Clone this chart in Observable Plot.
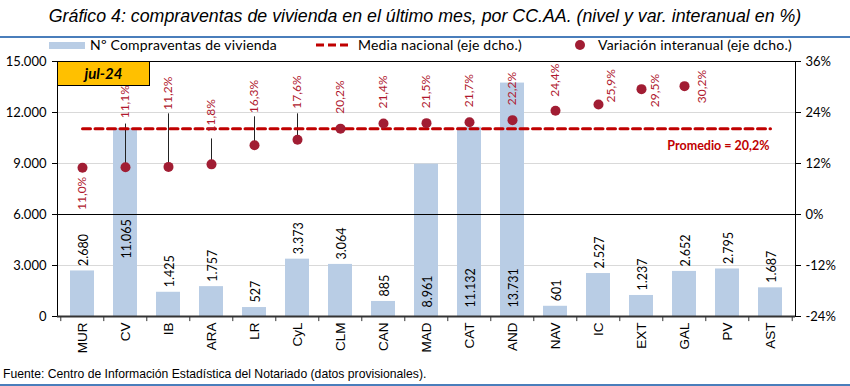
<!DOCTYPE html>
<html><head><meta charset="utf-8">
<script src="https://cdn.jsdelivr.net/npm/d3@7"></script>
<script src="https://cdn.jsdelivr.net/npm/@observablehq/plot@0.6"></script>
<style>
body{margin:0;background:#fff;}
#wrap{position:relative;width:850px;height:386px;overflow:hidden;font-family:Lato,sans-serif;background:#fff;}
.abs{position:absolute;}
.leg{position:absolute;font-size:14px;color:#000;white-space:nowrap;line-height:16px;letter-spacing:0.2px;}
#title{position:absolute;left:0;top:3px;width:850px;text-align:center;font:italic 17.8px 'Liberation Sans Narrow','Liberation Sans',sans-serif;white-space:nowrap;line-height:26px;color:#000;}
#source{position:absolute;left:3px;top:367px;font:12.2px 'Liberation Sans Narrow','Liberation Sans',sans-serif;white-space:nowrap;line-height:15px;color:#000;}
#chart{position:absolute;left:0;top:52px;}
#period{position:absolute;left:57px;top:61px;width:93px;height:25px;box-sizing:border-box;background:#ffc000;border:1px solid #000;font:italic bold 15px Lato,sans-serif;text-align:center;line-height:23px;}
</style></head><body><div id="wrap">
<div id="title"></div>
<div class="abs" style="left:0;top:36px;width:850px;height:2px;background:#4a7ebb"></div>
<div class="abs" style="left:49px;top:42px;width:36px;height:7px;background:#b9cde5"></div>
<div class="leg" id="leg1" style="left:90px;top:37px"></div>
<svg class="abs" style="left:316px;top:40px" width="36" height="10"><line x1="0" x2="36" y1="5" y2="5" stroke="#c00000" stroke-width="3" stroke-dasharray="8,4"/></svg>
<div class="leg" id="leg2" style="left:358px;top:37px"></div>
<svg class="abs" style="left:574px;top:39px" width="12" height="12"><circle cx="6" cy="6" r="5" fill="#a11d33"/></svg>
<div class="leg" id="leg3" style="left:598px;top:37px"></div>
<div id="chart"></div>
<div id="period"></div>
<div id="source"></div>
<div class="abs" style="left:0;top:384px;width:850px;height:2px;background:#4a7ebb"></div>
</div>
<script>
// ---- data ----
const categories = ["MUR","CV","IB","ARA","LR","CyL","CLM","CAN","MAD","CAT","AND","NAV","IC","EXT","GAL","PV","AST"];
const sales = [2680,11065,1425,1757,527,3373,3064,885,8961,11132,13731,601,2527,1237,2652,2795,1687];
const variation = [11.0,11.1,11.2,11.8,16.3,17.6,20.2,21.4,21.5,21.7,22.2,24.4,25.9,29.5,30.2,null,null];
const nationalMean = 20.2;
const leftTicks = [0,3000,6000,9000,12000,15000];
const rightTicks = [-24,-12,0,12,24,36];
const titleText = "Gráfico 4: compraventas de vivienda en el último mes, por CC.AA. (nivel y var. interanual en %)";
const legendLabels = ["Nº Compraventas de vivienda","Media nacional (eje dcho.)","Variación interanual (eje dcho.)"];
const periodLabel = "jul-24";
const sourceText = "Fuente: Centro de Información Estadística del Notariado (datos provisionales).";

// ---- layout (label placement, px) ----
const pointLabelLayout = {
  MUR:{dy:9,anchor:"end"}, CV:{dy:-49,leader:21.4}, IB:{dy:-57,leader:23.8}, ARA:{dy:-32,leader:17.9},
  LR:{dy:-32,leader:23.1}, CyL:{dy:-31,leader:23.8}, CLM:{dy:-15}, CAN:{dy:-15}, MAD:{dy:-15},
  CAT:{dy:-15}, AND:{dy:-15}, NAV:{dy:-14}, IC:{dx:13,dy:-2}, EXT:{dx:14,dy:18}, GAL:{dx:18,dy:17}
};
const barLabelInside = {CV:-58, MAD:-9, CAT:-9, AND:-9};

document.getElementById("title").textContent = titleText;
document.getElementById("source").textContent = sourceText;
document.getElementById("leg1").textContent = legendLabels[0];
document.getElementById("leg2").textContent = legendLabels[1];
document.getElementById("leg3").textContent = legendLabels[2];
document.getElementById("period").textContent = periodLabel;

const leftMax = leftTicks[leftTicks.length-1];
const rMin = rightTicks[0], rMax = rightTicks[rightTicks.length-1];
const pct = p => (p - rMin) / (rMax - rMin) * leftMax;
const unpct = v => v / leftMax * (rMax - rMin) + rMin;
const es = d3.formatLocale({decimal:",", thousands:".", grouping:[3], currency:["","€"]});
const fmtInt = es.format(",.0f");
const fmtPct = es.format(".1f");

const rows = categories.map((c,i) => ({cat:c, sales:sales[i], v:variation[i]}));
const dots = rows.filter(r => r.v != null);

const W = 850, H = 310, mL = 57, mR = 55, mT = 9, mB = 46;
const step = (W - mL - mR) / categories.length;
const labelColor = "#b0182e", dotColor = "#a11d33", meanColor = "#c00000";

const marks = [
  Plot.ruleY(leftTicks.filter(t => t !== 0 && t !== leftMax && t !== pct(0)), {stroke:"#d9d9d9"}),
  Plot.barY(rows, {x:"cat", y:"sales", fill:"#b9cde5"}),
  Plot.ruleY([pct(0)], {stroke:"#000", strokeWidth:1.2}),
  Plot.frame({stroke:"#000"}),
  Plot.ruleY([0], {stroke:"#333", strokeWidth:2}),
  Plot.ruleX(categories, {x:d=>d, y1:0, y2:-300, dx:-step/2, stroke:"#333"}),
  Plot.ruleX([categories[categories.length-1]], {x:d=>d, y1:0, y2:-300, dx:step/2, stroke:"#333"}),
];
// leader lines
dots.forEach(r => {
  const L = pointLabelLayout[r.cat];
  if (L && L.leader != null) marks.push(Plot.link([r], {x1:"cat", x2:"cat", y1:d=>pct(d.v), y2:()=>pct(L.leader), stroke:"#222", strokeWidth:1}));
});
marks.push(
  Plot.lineY(categories, {x:d=>d, y:()=>pct(nationalMean), stroke:meanColor, strokeWidth:3, strokeDasharray:"8,4.5"}),
  Plot.dot(dots, {x:"cat", y:d=>pct(d.v), r:5, fill:dotColor})
);
// point labels
dots.forEach(r => {
  const L = pointLabelLayout[r.cat] || {dy:-15};
  marks.push(Plot.text([r], {x:"cat", y:d=>pct(d.v), text:d=>fmtPct(d.v)+"%", rotate:-90,
    textAnchor:L.anchor || "start", dx:L.dx || 0, dy:L.dy || 0, fill:labelColor, fontSize:12, fontFamily:"Lato"}));
});
// bar labels
rows.forEach(r => {
  const inside = barLabelInside[r.cat];
  marks.push(Plot.text([r], {x:"cat", y:d=> inside != null ? 0 : d.sales, text:d=>fmtInt(d.sales), rotate:-90,
    textAnchor:"start", dy: inside != null ? inside : -5, dx:1, fill:"#000", fontSize:12.5, fontFamily:"Lato"}));
});
marks.push(
  Plot.text([nationalMean], {x:()=>categories[categories.length-1], y:d=>pct(d), text:d=>`Promedio = ${fmtPct(d)}%`,
    textAnchor:"end", dy:17, dx:-1, fill:meanColor, fontWeight:"bold", fontSize:12.5, fontFamily:"Lato"}),
  Plot.axisY({anchor:"left", ticks:leftTicks, tickSize:5, tickPadding:6, tickFormat:fmtInt, label:null, fontSize:13}),
  Plot.axisY({anchor:"right", ticks:rightTicks.map(pct), tickSize:5, tickPadding:5, tickFormat:d=>`${Math.round(unpct(d))}%`, label:null, fontSize:13}),
  Plot.axisX({anchor:"bottom", tickRotate:-90, tickSize:0, tickPadding:6, label:null, fontSize:13.5, fontFamily:"Liberation Sans"})
);

const chart = Plot.plot({
  width:W, height:H, marginLeft:mL, marginRight:mR, marginTop:mT, marginBottom:mB,
  style:{fontFamily:"Lato", fontSize:"13px", color:"#000", background:"transparent", overflow:"visible"},
  x:{type:"band", domain:categories, paddingInner:0.45, paddingOuter:0.225},
  y:{domain:[0,leftMax]},
  marks
});
document.getElementById("chart").appendChild(chart);
</script>
</body></html>
